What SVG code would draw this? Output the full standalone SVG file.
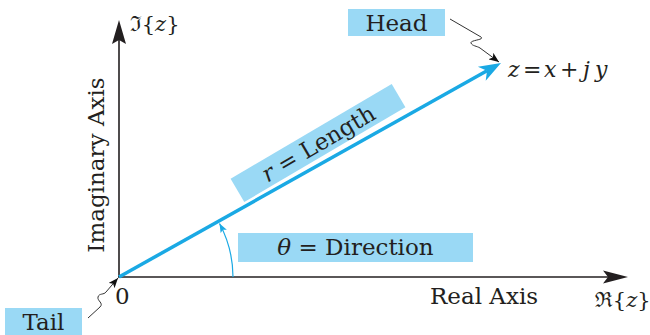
<svg xmlns="http://www.w3.org/2000/svg" width="650" height="335" viewBox="0 0 650 335">
<defs>
<style>
text{font-family:'DejaVu Serif','Liberation Serif','Noto Serif',serif;font-size:23px;fill:#231f20}
.i{font-style:italic}
.box{fill:#9ad9f5}
.axis{stroke:#231f20;stroke-width:1.6;fill:none}
.lead{stroke:#333;stroke-width:1;fill:none}
</style>
<marker id="sm" viewBox="0 0 10 8" refX="10" refY="4" markerWidth="10" markerHeight="8" markerUnits="userSpaceOnUse" orient="auto">
<path d="M0,0 L10,4 L0,8 L2.5,4 Z" fill="#111"/>
</marker>
<marker id="bm" viewBox="0 0 9 7" refX="9" refY="3.5" markerWidth="9" markerHeight="7" markerUnits="userSpaceOnUse" orient="auto">
<path d="M0,0 L9,3.5 L0,7 L2,3.5 Z" fill="#1aa9e4"/>
</marker>
</defs>
<rect width="650" height="335" fill="#fff"/>
<g id="connectors">
<line class="axis" x1="119" y1="277" x2="119" y2="40"/>
<path d="M119,20 L126,44 L119,40 L112,44 Z" fill="#231f20"/>
<line class="axis" x1="118" y1="277" x2="608" y2="277"/>
<path d="M628,277 L603,283.5 L608,277 L603,270.5 Z" fill="#231f20"/>
<line x1="119" y1="277" x2="487" y2="70.8" stroke="#1aa9e4" stroke-width="3.5"/>
<path d="M501,63 L485.7,80.7 L487,70.8 L477.9,66.8 Z" fill="#1aa9e4"/>
<path d="M233,277 A114,114 0 0 0 219.5,223.5" stroke="#1aa9e4" stroke-width="1.2" fill="none" marker-end="url(#bm)"/>
<path class="lead" d="M450,19 L481,37 C485,40 470,40 471,43 C472,46 477,46 480,48 L499,62" marker-end="url(#sm)"/>
<path class="lead" d="M88,318 L100,307 C104,303 97,301 98,297 C99,293 104,295 106,292 L118,278" marker-end="url(#sm)"/>
</g>
<g id="imag-label"><text x="130" y="31" style="font-size:21px">ℑ{<tspan class="i">z</tspan>}</text></g>
<g id="real-label"><text x="595" y="307" style="font-size:21px">ℜ{<tspan class="i">z</tspan>}</text></g>
<g id="imag-axis"><text transform="translate(104,165) rotate(-90)" text-anchor="middle">Imaginary Axis</text></g>
<g id="real-axis"><text x="430" y="304">Real Axis</text></g>
<g id="origin"><text x="115" y="304">0</text></g>
<g id="head">
<rect class="box" x="348" y="9" width="97" height="27"/>
<text x="396.5" y="31" text-anchor="middle">Head</text>
</g>
<g id="tail">
<rect class="box" x="5" y="308" width="77" height="28"/>
<text x="43.5" y="330" text-anchor="middle">Tail</text>
</g>
<g id="z-label"><text y="77" style="font-size:22px"><tspan class="i" x="508">z</tspan><tspan x="523">=</tspan><tspan class="i" x="544">x</tspan><tspan x="560">+</tspan><tspan class="i" x="583">j</tspan><tspan class="i" x="595">y</tspan></text></g>
<g id="length" transform="translate(318,143) rotate(-30.5)">
<rect class="box" x="-93.5" y="-13.5" width="187" height="27"/>
<text x="0" y="8.5" text-anchor="middle"><tspan class="i">r</tspan> = Length</text>
</g>
<g id="direction">
<rect class="box" x="238" y="233" width="235" height="29"/>
<text x="355.5" y="255" text-anchor="middle"><tspan class="i">θ</tspan> = Direction</text>
</g>
</svg>
